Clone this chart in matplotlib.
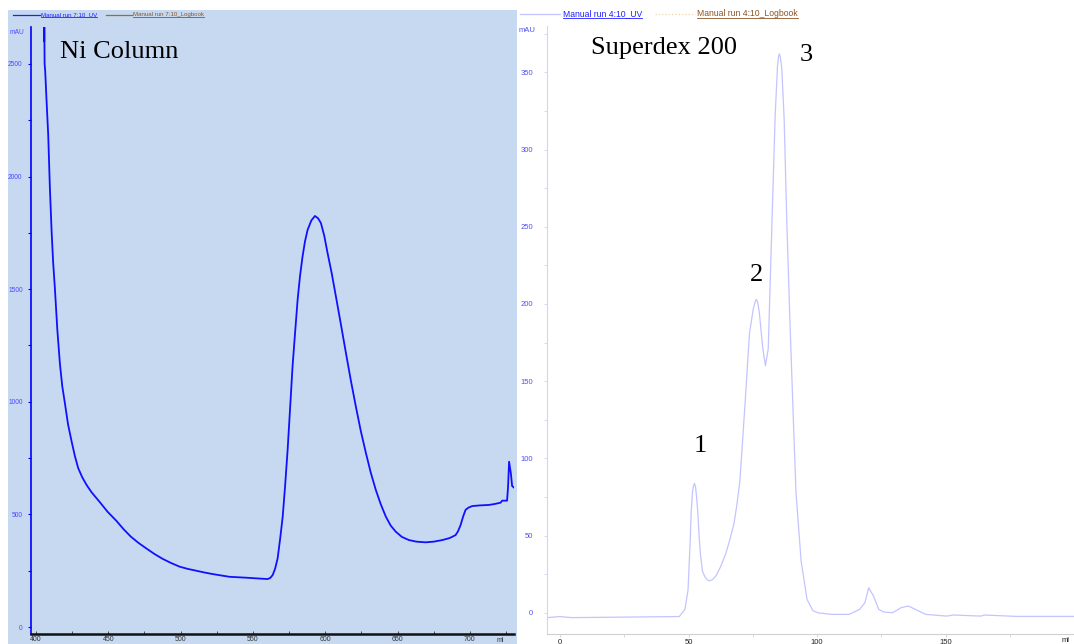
import matplotlib
matplotlib.use("Agg")
import matplotlib.pyplot as plt
from matplotlib.patches import Rectangle
from matplotlib.lines import Line2D

# Ni column run (left panel)
ni_ml = [405.6, 405.7, 405.8, 406.0, 406.4, 407.4, 408.5, 409.6, 410.8, 411.9,
         413.1, 414.8, 416.6, 418.2, 420.0, 422.2, 424.6, 426.9, 429.2, 432.0,
         435.0, 438.5, 444.1, 449.5, 455.7, 460.5, 465.5, 470.8, 476.3, 482.0,
         487.8, 493.5, 499.3, 505.0, 510.8, 516.5, 522.3, 528.0, 533.8, 539.5,
         545.3, 550.0, 555.0, 560.2, 562.0, 563.7, 565.4, 567.1, 568.8, 570.6,
         572.3, 574.0, 575.7, 577.4, 579.2, 580.9, 582.6, 584.3, 586.0, 587.8,
         590.4, 592.9, 595.0, 597.0, 599.3, 601.6, 604.5, 607.4, 610.8, 614.3,
         617.7, 621.2, 624.6, 628.1, 631.5, 635.0, 638.4, 641.9, 645.3, 648.8,
         653.0, 657.9, 663.0, 669.4, 675.0, 680.9, 686.0, 690.1, 691.8, 693.6,
         695.3, 697.0, 699.0, 701.6, 707.0, 713.1, 717.0, 721.2, 722.3, 725.7,
         726.4, 727.1, 728.3, 729.2, 730.3]
ni_mau = [2750, 2600, 2700, 2500, 2470, 2330, 2185, 1960, 1763, 1620,
          1505, 1320, 1168, 1070, 995, 900, 826, 760, 706, 665,
          631, 598, 555, 512, 471, 435, 402, 374, 349, 324,
          302, 284, 268, 258, 250, 242, 235, 229, 223, 221,
          219, 217, 215, 213, 218, 231, 260, 305, 390, 490,
          630, 786, 970, 1156, 1310, 1452, 1560, 1644, 1712, 1763,
          1805, 1825, 1815, 1794, 1738, 1661, 1570, 1467, 1345, 1217,
          1095, 978, 870, 773, 685, 608, 545, 490, 450, 423,
          400, 386, 379, 376, 379, 386, 395, 408, 425, 453,
          490, 520, 530, 537, 540, 542, 546, 552, 561, 561,
          623, 734, 684, 626, 620]
ni_xticks = [400, 450, 500, 550, 600, 650, 700]
ni_yticks = [0, 500, 1000, 1500, 2000, 2500]

# Superdex 200 run (right panel)
sd_ml = [-4.9, -0.2, 4.5, 46.4, 48.6, 49.8, 50.7, 51.0, 51.5, 51.9,
         52.3, 52.7, 53.1, 53.6, 54.1, 54.6, 55.4, 56.3, 57.2, 58.0,
         59.3, 60.7, 62.5, 64.4, 66.0, 67.7, 68.8, 70.0, 72.0, 73.7,
         75.2, 76.0, 76.4, 76.9, 77.5, 78.9, 79.9, 81.0, 81.7, 82.8,
         83.7, 84.6, 85.0, 85.3, 85.7, 86.3, 87.2, 88.2, 89.5, 90.8,
         91.8, 93.8, 96.1, 98.4, 100.4, 105.8, 112.5, 116.6, 118.6, 120.1,
         122.0, 124.0, 126.0, 129.4, 132.8, 135.5, 138.2, 142.3, 150.4, 153.1,
         163.8, 165.0, 177.4, 200.0]
sd_mau = [-3.1, -2.4, -3.1, -2.4, 2.3, 15, 49.5, 65, 78.1, 82,
          83.9, 81.5, 75.3, 65, 49.5, 38, 27, 23.5, 21.5, 20.7,
          21.5, 24, 30, 38, 47, 58, 70, 86, 136, 181,
          197, 202, 203, 201, 195, 171, 160, 171, 210, 272.5,
          322, 354, 360, 362, 360, 352, 319.5, 255, 186, 124,
          78, 33.5, 8.7, 1.4, 0, -1, -1, 2.3, 6.5, 16.2,
          10.8, 2.3, 0.5, 0.1, 3.4, 4.4, 2.3, -1, -2.1, -1.4,
          -2.1, -1.4, -2.3, -2.3]
sd_xticks = [0, 50, 100, 150]
sd_yticks = [0, 50, 100, 150, 200, 250, 300, 350]
peak_labels = ["1", "2", "3"]
peak_ml = [54.5, 76.3, 95.7]
peak_mau = [108, 219, 361]

W, H = 1074, 644
fig = plt.figure(figsize=(W / 100, H / 100), dpi=100)
fig.patch.set_facecolor("white")


def fx(px):
    return px / W


def fy(py):
    return 1 - py / H


sans = "Liberation Sans"
serif = "Liberation Serif"

# light blue background of the left screenshot
fig.patches.append(Rectangle((fx(8), 0), fx(509), 634 / H, transform=fig.transFigure,
                             facecolor="#c6d9f1", edgecolor="none", zorder=-5))

# ---- left panel ----
ax1 = fig.add_axes([fx(31), 10 / H, fx(514 - 31), (634 - 27) / H])
ax1.set_facecolor("none")
ax1.plot(ni_ml, ni_mau, color="#1010ff", lw=1.3)
for s in ["top", "right"]:
    ax1.spines[s].set_visible(False)
ax1.spines["left"].set_color("#0000ff")
ax1.spines["left"].set_linewidth(1.2)
ax1.spines["bottom"].set_color("#111111")
ax1.spines["bottom"].set_linewidth(1.8)
ax1.set_xticks(ni_xticks)
ax1.set_xticks([x + 25 for x in ni_xticks], minor=True)
ax1.set_yticks(ni_yticks)
ax1.set_yticks([y + 250 for y in ni_yticks], minor=True)
ax1.set_xlim(396.6, 730.5)
ax1.set_ylim(-31, 2664)
ax1.tick_params(axis="y", which="both", colors="#0000ff", length=2, width=0.8,
                labelsize=4.8, labelcolor="#4a4aff", pad=4)
ax1.tick_params(axis="x", which="both", colors="#333333", length=2, width=0.6,
                direction="in", labelsize=5, labelcolor="#333333", pad=1.5)
for lab in ax1.get_xticklabels() + ax1.get_yticklabels():
    lab.set_family(sans)
fig.text(fx(17), fy(33), "mAU", fontsize=4.8, color="#4a4aff", family=sans,
         ha="center", va="center")
fig.text(fx(500), fy(640), "ml", fontsize=5, color="#333333", family=sans,
         ha="center", va="center")
fig.text(fx(60), fy(52), "Ni Column", fontsize=19, family=serif, ha="left", va="center")

# ---- right panel ----
ax2 = fig.add_axes([fx(547), 10 / H, fx(1074 - 547), (634 - 26) / H])
ax2.set_facecolor("none")
ax2.plot(sd_ml, sd_mau, color="#c4c4ff", lw=0.9)
for s in ["top", "right"]:
    ax2.spines[s].set_visible(False)
ax2.spines["left"].set_color("#d4d4f4")
ax2.spines["left"].set_linewidth(0.8)
ax2.spines["bottom"].set_color("#d0d0d0")
ax2.spines["bottom"].set_linewidth(0.8)
ax2.set_xticks(sd_xticks)
ax2.set_xticks([x + 25 for x in sd_xticks], minor=True)
ax2.set_yticks(sd_yticks)
ax2.set_yticks([y + 25 for y in sd_yticks], minor=True)
ax2.set_xlim(-5.1, 200)
ax2.set_ylim(-13.7, 380)
ax2.tick_params(axis="y", which="both", colors="#d4d4f4", length=2, width=0.6,
                labelsize=5.5, labelcolor="#5050f0", pad=8)
ax2.tick_params(axis="x", which="both", colors="#d0d0d0", length=2, width=0.6,
                labelsize=5.5, labelcolor="#222222", pad=1.5)
for lab in ax2.get_xticklabels() + ax2.get_yticklabels():
    lab.set_family(sans)
fig.text(fx(527), fy(31), "mAU", fontsize=5.5, color="#5050f0", family=sans,
         ha="center", va="center")
fig.text(fx(1066), fy(640), "ml", fontsize=5.5, color="#222222", family=sans,
         ha="center", va="center")
fig.text(fx(591), fy(48), "Superdex 200", fontsize=19, family=serif, ha="left", va="center")
for lab, x, y in zip(peak_labels, peak_ml, peak_mau):
    ax2.text(x, y, lab, fontsize=19, family=serif, ha="center", va="center")

# ---- header legends (underlined links) ----
legend_items = [
    (13, 40, 14.5, "#2020ff", "-", 41, "Manual run 7:10_UV", "#2020ff", 4.4),
    (106, 132, 14.5, "#a06a30", "-", 133, "Manual run 7:10_Logbook", "#8b5524", 4.4),
    (520, 560, 13.5, "#c4c4ff", "-", 563, "Manual run 4:10_UV", "#2020ff", 6.2),
    (655, 695, 13.5, "#f0d4a8", ":", 697, "Manual run 4:10_Logbook", "#8b5524", 6.2),
]
texts = []
for x0, x1, y, lc, ls, tx, label, tc, fs in legend_items:
    fig.lines.append(Line2D([fx(x0), fx(x1)], [fy(y), fy(y)], transform=fig.transFigure,
                            color=lc, lw=0.9, ls=ls))
    t = fig.text(fx(tx), fy(y), label, fontsize=fs, color=tc, family=sans,
                 ha="left", va="center")
    texts.append(t)

renderer = fig.canvas.get_renderer()
for t in texts:
    bb = t.get_window_extent(renderer)
    fig.lines.append(Line2D([bb.x0 / W, bb.x1 / W], [(bb.y0 - 0.3) / H, (bb.y0 - 0.3) / H],
                            transform=fig.transFigure, color=t.get_color(), lw=0.6))

fig.savefig("out.png", dpi=100)
